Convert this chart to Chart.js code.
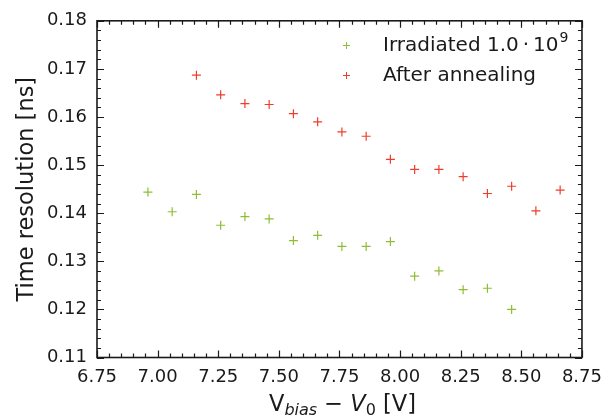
<!DOCTYPE html>
<html>
<head>
<meta charset="utf-8">
<script src="https://cdn.jsdelivr.net/npm/chart.js@4"></script>
<style>
  html, body { margin: 0; padding: 0; background: #fff; }
  #wrap { width: 611px; height: 419px; }
</style>
</head>
<body>
<div id="wrap"><canvas id="myChart" width="611" height="419"></canvas></div>
<script>
// bias voltage above V0 [V]
const xIrradiated = [6.96, 7.06, 7.16, 7.26, 7.36, 7.46, 7.56, 7.66, 7.76, 7.86, 7.96, 8.06, 8.16, 8.26, 8.36, 8.46];
const tIrradiated = [0.1444, 0.1403, 0.1439, 0.1375, 0.1393, 0.1388, 0.1343, 0.1354, 0.1331, 0.1331, 0.1341, 0.1269, 0.1280, 0.1241, 0.1244, 0.1200];
const xAnnealed = [7.16, 7.26, 7.36, 7.46, 7.56, 7.66, 7.76, 7.86, 7.96, 8.06, 8.16, 8.26, 8.36, 8.46, 8.56, 8.66];
const tAnnealed = [0.1687, 0.1646, 0.1628, 0.1626, 0.1607, 0.1590, 0.1569, 0.1560, 0.1512, 0.1491, 0.1491, 0.1476, 0.1441, 0.1456, 0.1405, 0.1448];

const seriesLabels = ["Irradiated 1.0\u2009\u00b7\u200910", "After annealing"];
const seriesColors = ["rgb(141, 190, 52)", "rgb(238, 62, 42)"];

const FONT = "DejaVu Sans";
const INK = "#1a1a1a";

// ticks pointing into the plot on all four sides, plus the closing frame
const frameTicks = {
  id: "frameTicks",
  afterDraw(chart) {
    const { ctx, chartArea: a, scales: { x, y } } = chart;
    ctx.save();
    ctx.strokeStyle = INK;
    ctx.lineWidth = 1.2;
    ctx.beginPath();
    for (let i = 0; i <= 40; i++) {
      const v = x.min + i * 0.05;
      const px = Math.round(x.getPixelForValue(v)) + 0.5;
      const len = i % 5 === 0 ? 7 : 4;
      ctx.moveTo(px, a.bottom); ctx.lineTo(px, a.bottom - len);
      ctx.moveTo(px, a.top); ctx.lineTo(px, a.top + len);
    }
    for (let i = 0; i <= 35; i++) {
      const v = y.min + i * 0.002;
      const py = Math.round(y.getPixelForValue(v)) + 0.5;
      const len = i % 5 === 0 ? 7 : 4;
      ctx.moveTo(a.left, py); ctx.lineTo(a.left + len, py);
      ctx.moveTo(a.right, py); ctx.lineTo(a.right - len, py);
    }
    ctx.stroke();
    ctx.lineWidth = 1.6;
    ctx.strokeRect(a.left, a.top, a.right - a.left, a.bottom - a.top);
    ctx.restore();
  }
};

// axis titles with sub/superscripts and the legend in the upper right
const labelsAndLegend = {
  id: "labelsAndLegend",
  afterDraw(chart) {
    const { ctx, chartArea: a } = chart;
    ctx.save();
    ctx.fillStyle = INK;

    // y title
    ctx.font = `22.5px "${FONT}"`;
    ctx.textAlign = "center";
    ctx.textBaseline = "alphabetic";
    ctx.translate(33, (a.top + a.bottom) / 2);
    ctx.rotate(-Math.PI / 2);
    ctx.fillText("Time resolution [ns]", 0, 0);
    ctx.setTransform(1, 0, 0, 1, 0, 0);

    // x title: V_bias - V_0 [V]
    const parts = [
      { t: "V", f: `22.5px "${FONT}"`, dy: 0 },
      { t: "bias", f: `italic 16px "${FONT}"`, dy: 4 },
      { t: " \u2212 ", f: `22.5px "${FONT}"`, dy: 0 },
      { t: "V", f: `italic 22.5px "${FONT}"`, dy: 0 },
      { t: "0", f: `16px "${FONT}"`, dy: 4 },
      { t: " [V]", f: `22.5px "${FONT}"`, dy: 0 }
    ];
    ctx.textAlign = "left";
    let w = 0;
    parts.forEach(p => { ctx.font = p.f; p.w = ctx.measureText(p.t).width; w += p.w; });
    let cx = (a.left + a.right) / 2 + 3 - w / 2;
    parts.forEach(p => { ctx.font = p.f; ctx.fillText(p.t, cx, 411 + p.dy); cx += p.w; });

    // legend
    const rows = [45, 75];
    rows.forEach((ry, i) => {
      ctx.strokeStyle = seriesColors[i];
      ctx.lineWidth = 1;
      ctx.beginPath();
      ctx.moveTo(343, ry + 0.5); ctx.lineTo(350, ry + 0.5);
      ctx.moveTo(346.5, ry - 3); ctx.lineTo(346.5, ry + 4);
      ctx.stroke();
      ctx.fillStyle = INK;
      ctx.font = `20px "${FONT}"`;
      ctx.textBaseline = "middle";
      ctx.fillText(seriesLabels[i], 383, ry + 1);
      if (i === 0) {
        const tw = ctx.measureText(seriesLabels[i]).width;
        ctx.font = `14px "${FONT}"`;
        ctx.fillText("9", 383 + tw + 1, ry - 7);
      }
    });
    ctx.restore();
  }
};

new Chart(document.getElementById("myChart").getContext("2d"), {
  type: "scatter",
  data: {
    datasets: [
      {
        label: seriesLabels[0],
        data: xIrradiated.map((v, i) => ({ x: v, y: tIrradiated[i] })),
        pointStyle: "cross",
        pointRadius: 4.5,
        pointBorderWidth: 1.2,
        borderColor: seriesColors[0],
        backgroundColor: seriesColors[0]
      },
      {
        label: seriesLabels[1],
        data: xAnnealed.map((v, i) => ({ x: v, y: tAnnealed[i] })),
        pointStyle: "cross",
        pointRadius: 4.5,
        pointBorderWidth: 1.2,
        borderColor: seriesColors[1],
        backgroundColor: seriesColors[1]
      }
    ]
  },
  options: {
    responsive: false,
    animation: false,
    layout: { padding: { left: 0, top: 15.5, right: 23, bottom: 0 } },
    plugins: { legend: { display: false }, tooltip: { enabled: false } },
    scales: {
      x: {
        type: "linear",
        min: 6.75,
        max: 8.75,
        afterFit: s => { s.height = 61.5; },
        grid: { display: false, drawTicks: false },
        border: { display: false },
        ticks: {
          stepSize: 0.25,
          padding: 9,
          color: INK,
          font: { family: FONT, size: 18 },
          maxRotation: 0,
          callback: v => v.toFixed(2)
        }
      },
      y: {
        type: "linear",
        min: 0.11,
        max: 0.18,
        afterFit: s => { s.width = 97; },
        grid: { display: false, drawTicks: false },
        border: { display: false },
        ticks: {
          stepSize: 0.01,
          padding: 10,
          color: INK,
          font: { family: FONT, size: 18 },
          callback: v => v.toFixed(2)
        }
      }
    }
  },
  plugins: [frameTicks, labelsAndLegend]
});
</script>
</body>
</html>
